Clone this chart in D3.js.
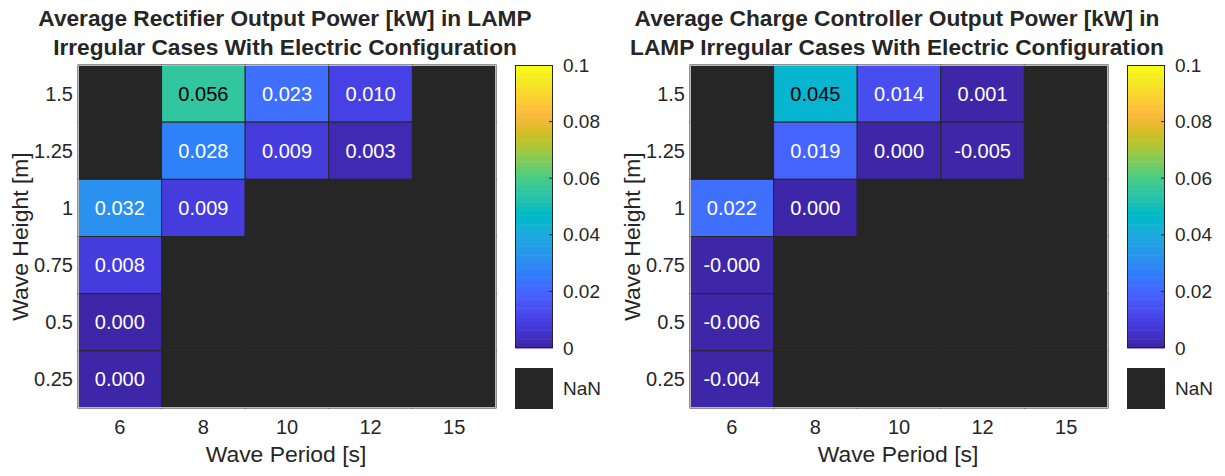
<!DOCTYPE html>
<html>
<head>
<meta charset="utf-8">
<script src="https://cdn.jsdelivr.net/npm/d3@7"></script>
<style>
  html, body { margin: 0; padding: 0; background: #fff; }
  svg { display: block; font-family: "Liberation Sans", Arial, Helvetica, sans-serif; }
</style>
</head>
<body>
<svg id="chart" width="1225" height="476"></svg>
<script>
// Wave period columns and wave height rows (top row first)
const periods = ["6", "8", "10", "12", "15"];
const heights = ["1.5", "1.25", "1", "0.75", "0.5", "0.25"];

// Average rectifier output power [kW]; null = no case run (NaN)
const rectifierPower = [
  [null, 0.056, 0.023, 0.010, null],
  [null, 0.028, 0.009, 0.003, null],
  [0.032, 0.009, null, null, null],
  [0.008, null, null, null, null],
  [0.0002, null, null, null, null],
  [0.0003, null, null, null, null]
];

// Average charge controller output power [kW]
const chargeControllerPower = [
  [null, 0.045, 0.014, 0.001, null],
  [null, 0.019, 0.0002, -0.005, null],
  [0.022, 0.0003, null, null, null],
  [-0.0002, null, null, null, null],
  [-0.006, null, null, null, null],
  [-0.004, null, null, null, null]
];

const colorTicks = [0, 0.02, 0.04, 0.06, 0.08, 0.1];
const colorTickLabels = ["0", "0.02", "0.04", "0.06", "0.08", "0.1"];

const titles = [
  ["Average Rectifier Output Power [kW] in LAMP", "Irregular Cases With Electric Configuration"],
  ["Average Charge Controller Output Power [kW] in", "LAMP Irregular Cases With Electric Configuration"]
];

// 64-entry parula colormap
const parula = [
  [0.2422,0.1504,0.6603],[0.2504,0.1650,0.7076],[0.2578,0.1818,0.7511],[0.2647,0.1978,0.7952],
  [0.2706,0.2147,0.8364],[0.2751,0.2342,0.8710],[0.2783,0.2559,0.8991],[0.2803,0.2782,0.9221],
  [0.2813,0.3006,0.9414],[0.2810,0.3228,0.9579],[0.2795,0.3447,0.9717],[0.2760,0.3667,0.9829],
  [0.2699,0.3892,0.9906],[0.2602,0.4123,0.9952],[0.2440,0.4358,0.9988],[0.2206,0.4603,0.9973],
  [0.1963,0.4847,0.9892],[0.1834,0.5074,0.9798],[0.1786,0.5289,0.9682],[0.1764,0.5499,0.9520],
  [0.1687,0.5703,0.9359],[0.1540,0.5902,0.9218],[0.1460,0.6091,0.9079],[0.1380,0.6276,0.8973],
  [0.1248,0.6459,0.8883],[0.1113,0.6635,0.8763],[0.0952,0.6798,0.8598],[0.0689,0.6948,0.8394],
  [0.0297,0.7082,0.8163],[0.0036,0.7203,0.7917],[0.0067,0.7312,0.7660],[0.0433,0.7411,0.7394],
  [0.0964,0.7500,0.7120],[0.1408,0.7584,0.6842],[0.1717,0.7670,0.6554],[0.1938,0.7758,0.6251],
  [0.2161,0.7843,0.5923],[0.2470,0.7918,0.5567],[0.2906,0.7973,0.5188],[0.3406,0.8008,0.4789],
  [0.3909,0.8029,0.4354],[0.4456,0.8024,0.3909],[0.5044,0.7993,0.3480],[0.5616,0.7942,0.3045],
  [0.6174,0.7876,0.2612],[0.6720,0.7793,0.2227],[0.7242,0.7698,0.1910],[0.7738,0.7598,0.1646],
  [0.8203,0.7498,0.1535],[0.8634,0.7406,0.1596],[0.9035,0.7330,0.1774],[0.9393,0.7288,0.2100],
  [0.9728,0.7298,0.2394],[0.9956,0.7434,0.2371],[0.9970,0.7659,0.2199],[0.9952,0.7893,0.2028],
  [0.9892,0.8136,0.1885],[0.9786,0.8386,0.1766],[0.9676,0.8639,0.1643],[0.9610,0.8890,0.1537],
  [0.9597,0.9135,0.1423],[0.9628,0.9373,0.1265],[0.9691,0.9606,0.1064],[0.9769,0.9839,0.0805]
];

const parulaHex = parula.map(c => d3.rgb(c[0] * 255, c[1] * 255, c[2] * 255).formatHex());
const color = d3.scaleQuantize().domain([0, 0.1]).range(parulaHex);
const nanColor = "#262626";
const textDark = "#262626";

const svg = d3.select("#chart");

// Layout of one panel (second panel is shifted right)
const panelShift = 612;
const plot = { x0: 78, x1: 496, y0: 65, y1: 408 };
const cbar = { x0: 515, x1: 553, y0: 65, y1: 348, nanY0: 368, nanY1: 409 };

function luminance(hex) {
  const c = d3.rgb(hex);
  return (0.299 * c.r + 0.587 * c.g + 0.114 * c.b) / 255;
}

function drawPanel(values, titleLines, dx) {
  const g = svg.append("g").attr("transform", `translate(${dx},0)`);

  const x = d3.scaleBand().domain(periods).range([plot.x0, plot.x1]);
  const y = d3.scaleBand().domain(heights).range([plot.y0, plot.y1]);

  const cells = [];
  heights.forEach((h, i) => periods.forEach((p, j) => {
    cells.push({ h, p, v: values[i][j] });
  }));

  // cells
  g.append("g").selectAll("rect").data(cells).join("rect")
    .attr("x", d => x(d.p))
    .attr("y", d => y(d.h))
    .attr("width", x.bandwidth())
    .attr("height", y.bandwidth())
    .attr("fill", d => d.v == null ? nanColor : color(d.v))
    .attr("stroke", "#262626")
    .attr("stroke-width", 1);

  // outer frame
  g.append("rect")
    .attr("x", plot.x0 + 0.5).attr("y", plot.y0 + 0.5)
    .attr("width", plot.x1 - plot.x0 - 1).attr("height", plot.y1 - plot.y0 - 1)
    .attr("fill", "none").attr("stroke", "#b8b8b8").attr("stroke-width", 1);

  // cell value labels
  g.append("g").selectAll("text").data(cells.filter(d => d.v != null)).join("text")
    .attr("x", d => x(d.p) + x.bandwidth() / 2)
    .attr("y", d => y(d.h) + y.bandwidth() / 2)
    .attr("text-anchor", "middle")
    .attr("dominant-baseline", "central")
    .attr("font-size", 20)
    .attr("fill", d => luminance(color(d.v)) > 0.5 ? "#000" : "#fff")
    .text(d => d.v.toFixed(3));

  // x tick labels
  g.append("g").selectAll("text").data(periods).join("text")
    .attr("x", d => x(d) + x.bandwidth() / 2)
    .attr("y", 434)
    .attr("text-anchor", "middle")
    .attr("font-size", 20)
    .attr("fill", textDark)
    .text(d => d);

  // y tick labels
  g.append("g").selectAll("text").data(heights).join("text")
    .attr("x", plot.x0 - 5)
    .attr("y", d => y(d) + y.bandwidth() / 2)
    .attr("text-anchor", "end")
    .attr("dominant-baseline", "central")
    .attr("font-size", 20)
    .attr("fill", textDark)
    .text(d => d);

  // axis labels
  g.append("text")
    .attr("x", (plot.x0 + plot.x1) / 2 - 1)
    .attr("y", 462)
    .attr("text-anchor", "middle")
    .attr("font-size", 22.9)
    .attr("fill", textDark)
    .text("Wave Period [s]");

  g.append("text")
    .attr("transform", `translate(28,${(plot.y0 + plot.y1) / 2}) rotate(-90)`)
    .attr("text-anchor", "middle")
    .attr("font-size", 22.9)
    .attr("fill", textDark)
    .text("Wave Height [m]");

  // title
  g.append("text")
    .attr("text-anchor", "middle")
    .attr("font-size", 22.7)
    .attr("font-weight", "bold")
    .attr("fill", textDark)
    .selectAll("tspan").data(titleLines).join("tspan")
    .attr("x", (plot.x0 + plot.x1) / 2 - 2)
    .attr("y", (d, i) => 26 + i * 28.5)
    .text(d => d);

  // colorbar
  const cy = d3.scaleLinear().domain([0, 0.1]).range([cbar.y1, cbar.y0]);
  const step = 0.1 / parulaHex.length;
  g.append("g").selectAll("rect").data(parulaHex).join("rect")
    .attr("x", cbar.x0)
    .attr("y", (d, i) => cy((i + 1) * step))
    .attr("width", cbar.x1 - cbar.x0)
    .attr("height", (d, i) => cy(i * step) - cy((i + 1) * step) + 0.5)
    .attr("fill", d => d);

  g.append("rect")
    .attr("x", cbar.x0 + 0.5).attr("y", cbar.y0 + 0.5)
    .attr("width", cbar.x1 - cbar.x0 - 1).attr("height", cbar.y1 - cbar.y0 - 1)
    .attr("fill", "none").attr("stroke", "#262626").attr("stroke-width", 1);

  g.append("g").selectAll("line").data(colorTicks.slice(1, -1)).join("line")
    .attr("x1", cbar.x1 - 4).attr("x2", cbar.x1)
    .attr("y1", d => cy(d)).attr("y2", d => cy(d))
    .attr("stroke", "#262626").attr("stroke-width", 1);

  g.append("g").selectAll("text").data(colorTicks).join("text")
    .attr("x", cbar.x1 + 10)
    .attr("y", d => cy(d))
    .attr("dominant-baseline", "central")
    .attr("font-size", 19)
    .attr("fill", textDark)
    .text((d, i) => colorTickLabels[i]);

  // NaN swatch
  g.append("rect")
    .attr("x", cbar.x0).attr("y", cbar.nanY0)
    .attr("width", cbar.x1 - cbar.x0).attr("height", cbar.nanY1 - cbar.nanY0)
    .attr("fill", nanColor);
  g.append("text")
    .attr("x", cbar.x1 + 10)
    .attr("y", (cbar.nanY0 + cbar.nanY1) / 2)
    .attr("dominant-baseline", "central")
    .attr("font-size", 19)
    .attr("fill", textDark)
    .text("NaN");
}

drawPanel(rectifierPower, titles[0], 0);
drawPanel(chargeControllerPower, titles[1], panelShift);
</script>
</body>
</html>
